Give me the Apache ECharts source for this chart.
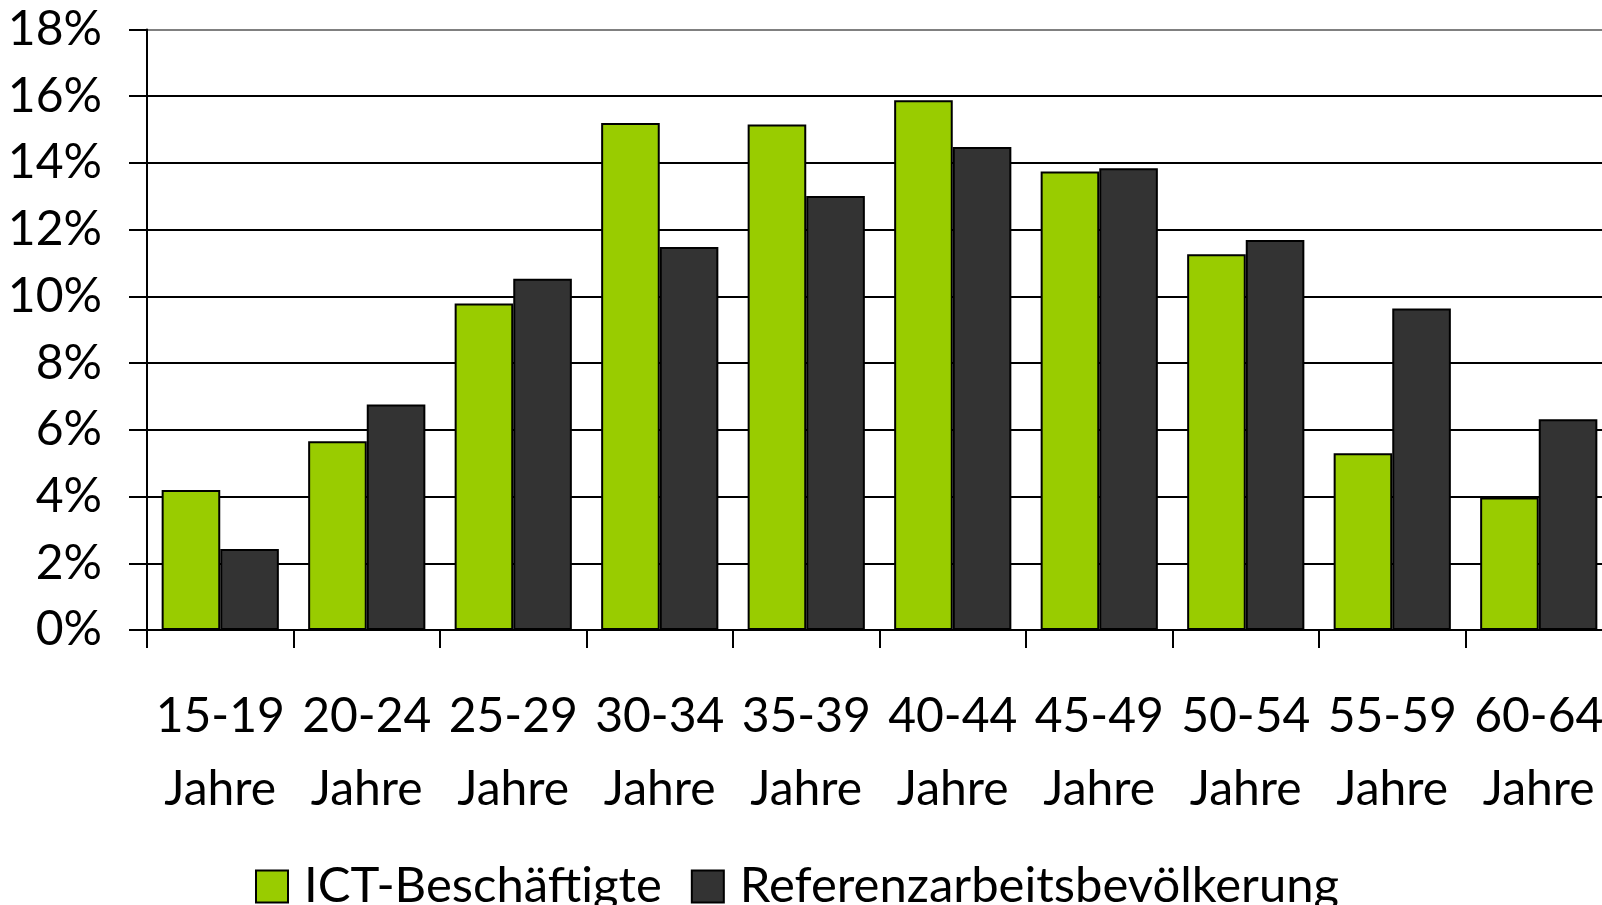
<!DOCTYPE html>
<html lang="de">
<head>
    <meta charset="UTF-8">
    <script src="https://cdn.jsdelivr.net/npm/echarts@6/dist/echarts.min.js"></script>
    <style>
        html, body { margin: 0; padding: 0; background: #fff; overflow: hidden; }
        #chart { width: 1620px; height: 905px; }
    </style>
</head>
<body>
<div id="chart"></div>
<script type="text/javascript">
    // Altersgruppen
    var categories = ['15-19\nJahre', '20-24\nJahre', '25-29\nJahre', '30-34\nJahre', '35-39\nJahre',
        '40-44\nJahre', '45-49\nJahre', '50-54\nJahre', '55-59\nJahre', '60-64\nJahre'];
    // Anteile in %
    var ictValues = [4.2, 5.66, 9.79, 15.2, 15.15, 15.88, 13.74, 11.26, 5.3, 3.97];
    var refValues = [2.43, 6.76, 10.53, 11.48, 13.01, 14.48, 13.84, 11.69, 9.64, 6.32];
    var seriesNames = ['ICT-Beschäftigte', 'Referenzarbeitsbevölkerung'];

    var font = 'Lato, "Open Sans", sans-serif';
    // div is wider than the window: the plot runs past the right edge like in the original
    var mychart = echarts.init(document.getElementById('chart'));

    var option = {
        animation: false,
        backgroundColor: '#ffffff',
        textStyle: { fontFamily: font },
        grid: {
            left: 147,
            top: 29.5,
            width: 1465,
            height: 600.5,
            containLabel: false
        },
        legend: {
            left: 250,
            top: 857,
            itemWidth: 32,
            itemHeight: 32,
            itemGap: 29,
            icon: 'rect',
            data: seriesNames,
            textStyle: {
                fontFamily: font,
                fontSize: 49,
                color: '#000',
                padding: [0, 0, 0, 11]
            }
        },
        xAxis: {
            type: 'category',
            data: categories,
            axisLine: { lineStyle: { color: '#000', width: 2 } },
            axisTick: { show: true, length: 18, lineStyle: { color: '#000', width: 2 } },
            axisLabel: {
                interval: 0,
                margin: 50,
                fontSize: 48,
                lineHeight: 73,
                color: '#000',
                fontFamily: font
            }
        },
        yAxis: {
            type: 'value',
            min: 0,
            max: 18,
            interval: 2,
            axisLine: { show: true, lineStyle: { color: '#000', width: 2 } },
            axisTick: { show: true, length: 18, lineStyle: { color: '#000', width: 2 } },
            axisLabel: {
                formatter: '{value}%',
                margin: 45,
                fontSize: 48,
                color: '#000',
                fontFamily: font
            },
            splitLine: {
                show: true,
                lineStyle: {
                    width: 2,
                    color: ['#000', '#000', '#000', '#000', '#000', '#000', '#000', '#000', '#000', '#808080']
                }
            }
        },
        series: [
            {
                name: seriesNames[0],
                type: 'bar',
                data: ictValues,
                barGap: '0%',
                barCategoryGap: '20%',
                itemStyle: { color: '#99cc00', borderColor: '#000', borderWidth: 2 }
            },
            {
                name: seriesNames[1],
                type: 'bar',
                data: refValues,
                barGap: '0%',
                barCategoryGap: '20%',
                itemStyle: { color: '#333333', borderColor: '#000', borderWidth: 2 }
            }
        ]
    };
    mychart.setOption(option, true);
</script>
</body>
</html>
